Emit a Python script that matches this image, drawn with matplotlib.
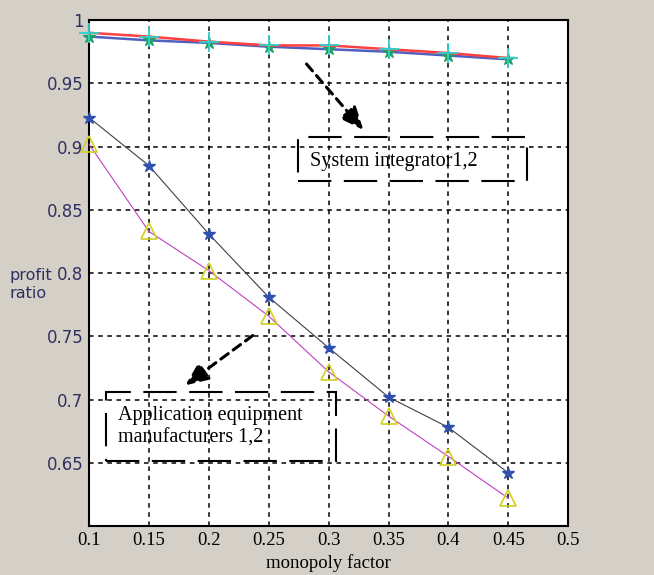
import matplotlib
matplotlib.use("Agg")
import matplotlib.pyplot as plt
from matplotlib.patches import Rectangle

x = [0.10, 0.15, 0.20, 0.25, 0.30, 0.35, 0.40, 0.45]
integrator1 = [0.990, 0.987, 0.983, 0.980, 0.980, 0.977, 0.974, 0.970]
integrator2 = [0.987, 0.984, 0.982, 0.979, 0.977, 0.975, 0.972, 0.969]
manufacturer1 = [0.923, 0.885, 0.831, 0.781, 0.741, 0.702, 0.678, 0.642]
manufacturer2 = [0.902, 0.833, 0.802, 0.766, 0.722, 0.687, 0.655, 0.622]
xticks = [0.1, 0.15, 0.2, 0.25, 0.3, 0.35, 0.4, 0.45, 0.5]
xticklabels = ["0.1", "0.15", "0.2", "0.25", "0.3", "0.35", "0.4", "0.45", "0.5"]
yticks = [0.65, 0.7, 0.75, 0.8, 0.85, 0.9, 0.95, 1.0]
yticklabels = ["0.65", "0.7", "0.75", "0.8", "0.85", "0.9", "0.95", "1"]

fig = plt.figure(figsize=(6.54, 5.75), dpi=100, facecolor="#d4d0c8")
ax = fig.add_axes([0.136, 0.085, 0.733, 0.880])
ax.set_facecolor("white")

ax.plot(x, integrator2, color="#5060c0", lw=1.8, marker="*", ms=9, mec="#20a060", mfc="#20a060", zorder=3, clip_on=False)
ax.plot(x, integrator1, color="#ff4040", lw=1.8, marker="+", ms=14, mew=1.3, mec="#30d0d0", zorder=4, clip_on=False)
ax.plot(x, manufacturer1, color="#404040", lw=0.8, marker="*", ms=9, mec="#3050b0", mfc="#3050b0", zorder=3, clip_on=False)
ax.plot(x, manufacturer2, color="#c040c0", lw=0.8, marker="^", ms=11, mec="#d0d020", mfc="none", mew=1.2, zorder=3, clip_on=False)

ax.set_xlim(0.1, 0.5)
ax.set_ylim(0.6, 1.0)
ax.set_xticks(xticks)
ax.set_xticklabels(xticklabels, family="Liberation Serif", fontsize=13.5)
ax.set_yticks(yticks)
ax.set_yticklabels(yticklabels, family="DejaVu Sans", fontsize=12, color="#303060")
ax.tick_params(direction="in", length=0, pad=4)
ax.grid(True, color="black", linestyle=(0, (3, 3)), lw=1.1)
for s in ax.spines.values():
    s.set_color("black")
    s.set_linewidth(1.5)

ax.set_xlabel("monopoly factor", family="Liberation Serif", fontsize=13.5, labelpad=4)
fig.text(0.015, 0.505, "profit\nratio", family="DejaVu Sans", fontsize=11.5, color="#303060",
         ha="left", va="center", linespacing=1.3)

ax.add_patch(Rectangle((0.2745, 0.8727), 0.4658 - 0.2745, 0.9075 - 0.8727, fc="none", ec="black",
                       lw=1.5, ls=(0, (16, 6)), zorder=5))
ax.text(0.2845, 0.8885, "System integrator1,2", family="Liberation Serif", fontsize=14.5,
        ha="left", va="center", zorder=6)
ax.add_patch(Rectangle((0.1142, 0.6514), 0.3063 - 0.1142, 0.706 - 0.6514, fc="none", ec="black",
                       lw=1.5, ls=(0, (16, 6)), zorder=5))
ax.text(0.124, 0.6785, "Application equipment\nmanufacturers 1,2", family="Liberation Serif", fontsize=14.5,
        ha="left", va="center", linespacing=1.25, zorder=6)

ax.annotate("", xy=(0.3305, 0.9115), xytext=(0.280, 0.967),
            arrowprops=dict(arrowstyle="-|>,head_length=1.4,head_width=0.6", color="black", lw=2.2, ls=(0, (3, 2))), zorder=7)
ax.annotate("", xy=(0.1785, 0.710), xytext=(0.2386, 0.752),
            arrowprops=dict(arrowstyle="-|>,head_length=1.4,head_width=0.6", color="black", lw=2.2, ls=(0, (3, 2))), zorder=7)

fig.savefig("out.png", dpi=100, facecolor=fig.get_facecolor())
